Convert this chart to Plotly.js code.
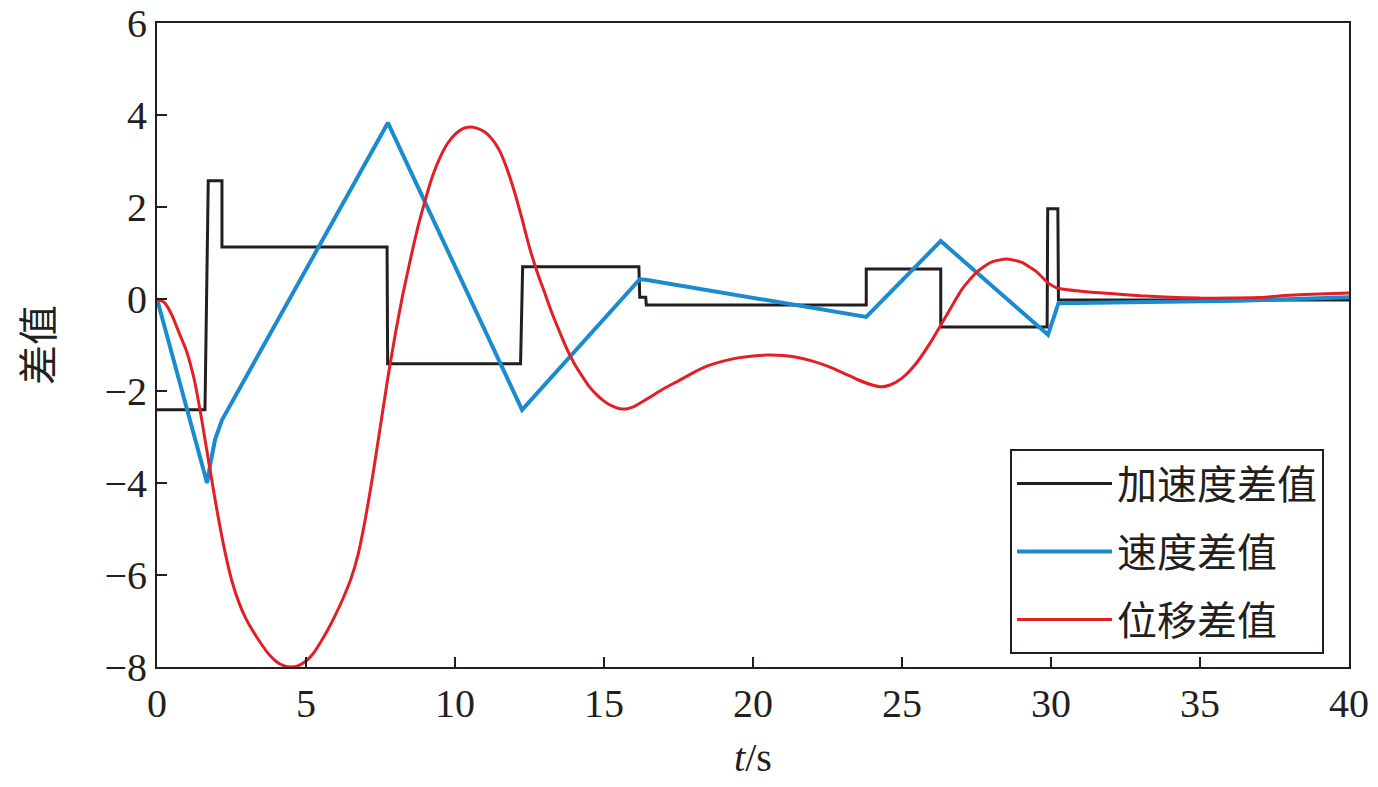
<!DOCTYPE html>
<html>
<head>
<meta charset="utf-8">
<script src="https://cdn.plot.ly/plotly-3.0.1.min.js"></script>
<style>html,body{margin:0;padding:0;background:#fff;}#chart{width:1378px;height:787px;}</style>
</head>
<body>
<div id="chart"></div>
<script>
// Series names
const seriesNames = ["加速度差值", "速度差值", "位移差值"];

// Acceleration difference (step function)
const accT = [0, 1.61, 1.72, 2.18, 2.18, 7.72, 7.74, 12.2, 12.27, 16.17, 16.2, 16.4, 16.42, 23.8, 23.8, 26.3, 26.3, 29.87, 29.89, 30.23, 30.25, 40];
const accV = [-2.41, -2.41, 2.57, 2.57, 1.13, 1.13, -1.41, -1.41, 0.70, 0.70, 0.04, 0.04, -0.13, -0.13, 0.65, 0.65, -0.61, -0.61, 1.96, 1.96, -0.02, -0.02];

// Velocity difference
const velT = [0, 1.68, 1.8, 1.95, 2.18, 7.75, 12.25, 16.2, 16.4, 20, 23.8, 26.3, 29.9, 30.25, 33, 36.3, 40];
const velV = [0, -4.0, -3.55, -3.05, -2.63, 3.83, -2.41, 0.43, 0.42, 0.02, -0.39, 1.26, -0.78, -0.09, -0.06, -0.04, 0.04];

// Displacement difference
const disT = [0, 0.25, 0.5, 0.75, 1.0, 1.25, 1.5, 1.75, 2.0, 2.25, 2.5, 2.75, 3.0, 3.25, 3.5, 3.75, 4.0, 4.25, 4.5, 4.75, 5.0, 5.25, 5.5, 5.75, 6.0, 6.25, 6.5, 6.75, 7.0, 7.25, 7.5, 7.75, 8.0, 8.25, 8.5, 8.75, 9.0, 9.25, 9.5, 9.75, 10.0, 10.25, 10.5, 10.75, 11.0, 11.25, 11.5, 11.75, 12.0, 12.25, 12.5, 12.75, 13.0, 13.25, 13.5, 13.75, 14.0, 14.25, 14.5, 14.75, 15.0, 15.25, 15.5, 15.75, 16.0, 16.5, 17.0, 17.5, 18.0, 18.5, 19.0, 19.5, 20.0, 20.5, 21.0, 21.5, 22.0, 22.5, 23.0, 23.5, 24.0, 24.3, 24.6, 25.0, 25.5, 26.0, 26.5, 27.0, 27.5, 28.0, 28.5, 29.0, 29.5, 29.9, 30.2, 31.0, 32.0, 33.0, 34.0, 35.0, 36.0, 37.0, 38.0, 39.0, 40.0];
const disV = [0, -0.08, -0.35, -0.75, -1.15, -1.75, -2.62, -3.6, -4.55, -5.4, -6.1, -6.6, -6.97, -7.25, -7.5, -7.72, -7.88, -7.97, -8.0, -7.97, -7.87, -7.7, -7.45, -7.17, -6.85, -6.5, -6.1, -5.55, -4.75, -3.8, -2.75, -1.7, -0.75, 0.1, 0.85, 1.55, 2.15, 2.68, 3.08, 3.38, 3.58, 3.7, 3.74, 3.71, 3.63, 3.47, 3.22, 2.82, 2.32, 1.74, 1.12, 0.6, 0.15, -0.3, -0.7, -1.08, -1.4, -1.66, -1.9, -2.08, -2.22, -2.32, -2.38, -2.39, -2.34, -2.15, -1.95, -1.78, -1.6, -1.45, -1.35, -1.28, -1.24, -1.22, -1.23, -1.27, -1.35, -1.46, -1.6, -1.75, -1.87, -1.91, -1.87, -1.72, -1.38, -0.9, -0.35, 0.2, 0.58, 0.8, 0.87, 0.8, 0.6, 0.35, 0.24, 0.17, 0.12, 0.07, 0.04, 0.02, 0.02, 0.03, 0.08, 0.11, 0.13];

// Axis ticks
const xTicks = [0, 5, 10, 15, 20, 25, 30, 35, 40];
const yTicks = [-8, -6, -4, -2, 0, 2, 4, 6];

const colors = ["#231f20", "#1b8bd0", "#e21f26"];

const traces = [
  {x: accT, y: accV, name: seriesNames[0], legendgroup: "a", mode: "lines", line: {color: colors[0], width: 3}},
  {x: velT, y: velV, name: seriesNames[1], legendgroup: "b", mode: "lines", line: {color: colors[1], width: 4}},
  {x: disT, y: disV, name: seriesNames[2], legendgroup: "c", mode: "lines", line: {color: colors[2], width: 3, shape: "spline", smoothing: 0.6}}
];

const serif = "Liberation Serif, Times New Roman, serif";
const cjk = "Noto Sans CJK SC, sans-serif";

const layout = {
  width: 1378, height: 787,
  margin: {l: 157, r: 29, t: 23, b: 120},
  paper_bgcolor: "#fff", plot_bgcolor: "#fff",
  showlegend: true,
  legend: {
    x: 0.7156, y: 0.3385, xanchor: "left", yanchor: "top",
    bordercolor: "#231f20", borderwidth: 2, bgcolor: "#fff",
    font: {family: cjk, size: 40, color: "#231f20"},
    itemwidth: 95, tracegroupgap: 13, traceorder: "grouped"
  },
  xaxis: {
    range: [0, 40], tickvals: xTicks, ticktext: xTicks.map(String),
    ticks: "inside", ticklen: 10, tickwidth: 2, tickcolor: "#231f20",
    showline: true, linecolor: "#231f20", linewidth: 2, mirror: true,
    showgrid: false, zeroline: false,
    tickfont: {family: serif, size: 40, color: "#231f20"},
    title: {text: "<i>t</i>/s", font: {family: serif, size: 40, color: "#231f20"}, standoff: 18}
  },
  yaxis: {
    range: [-8, 6], tickvals: yTicks, ticktext: yTicks.map(v => v < 0 ? "\u2212" + Math.abs(v) : String(v)),
    ticks: "inside", ticklen: 10, tickwidth: 2, tickcolor: "#231f20",
    showline: true, linecolor: "#231f20", linewidth: 2, mirror: true,
    showgrid: false, zeroline: false,
    tickfont: {family: serif, size: 40, color: "#231f20"},
    title: {text: "差值", font: {family: cjk, size: 40, color: "#231f20"}, standoff: 38}
  }
};

Plotly.newPlot("chart", traces, layout, {staticPlot: true, displayModeBar: false});
</script>
</body>
</html>
